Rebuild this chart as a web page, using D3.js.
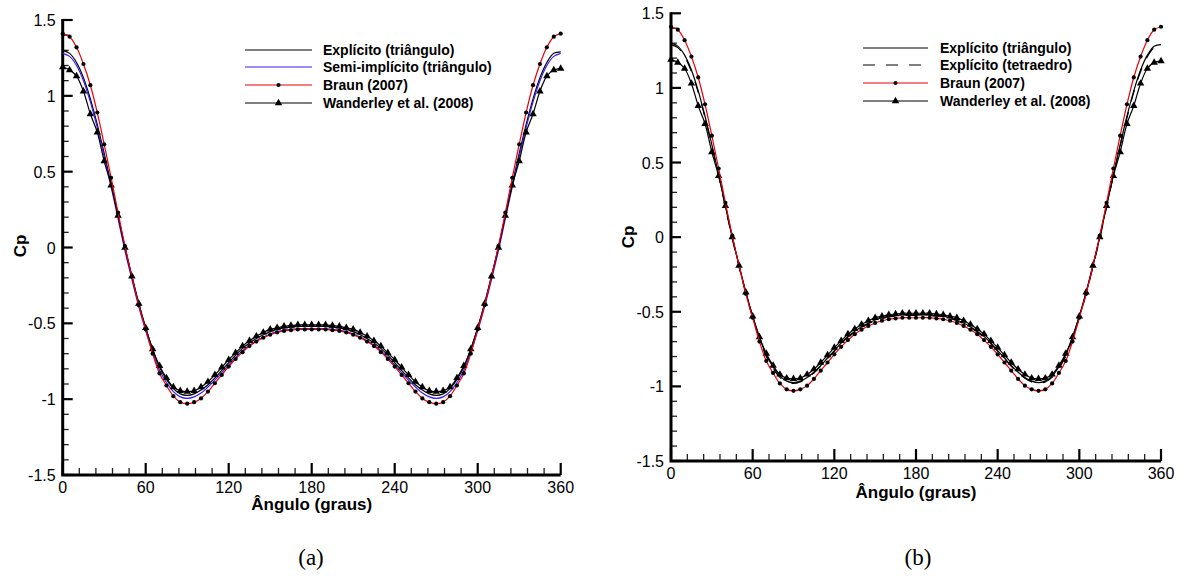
<!DOCTYPE html>
<html><head><meta charset="utf-8">
<script src="https://cdn.jsdelivr.net/npm/d3@7"></script>
<style>
html,body{margin:0;padding:0;background:#fff;}
svg text{font-family:"Liberation Sans",Arial,sans-serif;}
svg text.cap{font-family:"Liberation Serif","Times New Roman",serif;}
</style></head>
<body>
<svg id="c" width="1184" height="580"></svg>
<script>
// ---------- DATA ----------
const angles = [0,5,10,15,20,25,30,35,40,45,50,55,60,65,70,75,80,85,90,95,100,105,110,115,120,125,130,135,140,145,150,155,160,165,170,175,180,
 185,190,195,200,205,210,215,220,225,230,235,240,245,250,255,260,265,270,275,280,285,290,295,300,305,310,315,320,325,330,335,340,345,350,355,360];

const braun = [1.41,1.39,1.32,1.21,1.07,0.89,0.68,0.46,0.23,0.01,-0.19,-0.38,-0.54,-0.70,-0.83,-0.91,-0.98,-1.02,-1.03,-1.02,-0.995,-0.95,-0.895,-0.84,-0.785,-0.735,-0.69,-0.65,-0.62,-0.595,-0.575,-0.56,-0.55,-0.545,-0.54,-0.54,-0.54,
 -0.54,-0.54,-0.545,-0.55,-0.56,-0.575,-0.595,-0.62,-0.65,-0.69,-0.735,-0.785,-0.84,-0.895,-0.95,-0.995,-1.02,-1.03,-1.02,-0.98,-0.91,-0.83,-0.70,-0.54,-0.38,-0.19,0.01,0.23,0.46,0.68,0.89,1.07,1.21,1.32,1.39,1.41];

const wanderley = [1.19,1.17,1.13,1.03,0.88,0.76,0.57,0.41,0.21,0.00,-0.19,-0.37,-0.53,-0.67,-0.78,-0.86,-0.92,-0.945,-0.95,-0.945,-0.92,-0.885,-0.84,-0.79,-0.74,-0.695,-0.65,-0.615,-0.585,-0.56,-0.54,-0.53,-0.52,-0.515,-0.51,-0.51,-0.51,
 -0.51,-0.51,-0.515,-0.52,-0.53,-0.54,-0.56,-0.585,-0.615,-0.65,-0.695,-0.74,-0.79,-0.84,-0.885,-0.92,-0.945,-0.95,-0.945,-0.92,-0.86,-0.78,-0.67,-0.53,-0.37,-0.19,0.00,0.21,0.41,0.57,0.76,0.88,1.03,1.13,1.17,1.18];

const explicitoTri = [1.30,1.28,1.22,1.12,0.98,0.81,0.62,0.42,0.21,0.00,-0.19,-0.37,-0.53,-0.67,-0.79,-0.87,-0.93,-0.965,-0.975,-0.965,-0.94,-0.905,-0.86,-0.81,-0.76,-0.71,-0.665,-0.63,-0.60,-0.575,-0.555,-0.54,-0.53,-0.525,-0.52,-0.52,-0.52,
 -0.52,-0.52,-0.525,-0.53,-0.54,-0.555,-0.575,-0.60,-0.63,-0.665,-0.71,-0.76,-0.81,-0.86,-0.905,-0.94,-0.965,-0.975,-0.965,-0.93,-0.87,-0.79,-0.67,-0.53,-0.37,-0.19,0.00,0.21,0.42,0.62,0.81,0.98,1.12,1.22,1.28,1.29];

const semiImplicitoTri = [1.28,1.26,1.20,1.10,0.96,0.79,0.60,0.40,0.19,-0.02,-0.21,-0.39,-0.55,-0.69,-0.81,-0.89,-0.95,-0.985,-0.995,-0.985,-0.96,-0.92,-0.875,-0.825,-0.775,-0.725,-0.68,-0.645,-0.615,-0.59,-0.57,-0.555,-0.545,-0.54,-0.535,-0.535,-0.535,
 -0.535,-0.535,-0.54,-0.545,-0.555,-0.57,-0.59,-0.615,-0.645,-0.68,-0.725,-0.775,-0.825,-0.875,-0.92,-0.96,-0.985,-0.995,-0.985,-0.95,-0.89,-0.81,-0.69,-0.55,-0.39,-0.21,-0.02,0.19,0.40,0.60,0.79,0.96,1.10,1.20,1.26,1.28];

const explicitoTet = [1.29,1.27,1.21,1.11,0.97,0.80,0.61,0.41,0.20,-0.01,-0.20,-0.38,-0.54,-0.68,-0.80,-0.88,-0.94,-0.97,-0.98,-0.97,-0.945,-0.91,-0.865,-0.815,-0.765,-0.715,-0.67,-0.635,-0.605,-0.58,-0.56,-0.545,-0.535,-0.53,-0.525,-0.525,-0.525,
 -0.525,-0.525,-0.53,-0.535,-0.545,-0.56,-0.58,-0.605,-0.635,-0.67,-0.715,-0.765,-0.815,-0.865,-0.91,-0.945,-0.97,-0.98,-0.97,-0.94,-0.88,-0.80,-0.68,-0.54,-0.38,-0.20,-0.01,0.20,0.41,0.61,0.80,0.97,1.11,1.21,1.27,1.28];

const xTickValues = [0,60,120,180,240,300,360];
const xTickLabels = ["0","60","120","180","240","300","360"];
const yTickValues = [-1.5,-1,-0.5,0,0.5,1,1.5];
const yTickLabels = ["-1.5","-1","-0.5","0","0.5","1","1.5"];

const legendA = ["Explícito (triângulo)","Semi-implícito (triângulo)","Braun (2007)","Wanderley et al. (2008)"];
const legendB = ["Explícito (triângulo)","Explícito (tetraedro)","Braun (2007)","Wanderley et al. (2008)"];

// ---------- DRAW ----------
const svg = d3.select("#c");

function drawPanel(p){
  const g = svg.append("g");
  const x = d3.scaleLinear().domain([0,360]).range([p.x0,p.x1]);
  const y = d3.scaleLinear().domain([-1.5,1.5]).range([p.yBot,p.yTop]);

  // minor ticks
  const xMinor = d3.range(0,361,12).filter(v=>v%60!==0);
  const yMinor = d3.range(-15,16,1).map(v=>v/10).filter(v=>Math.abs(v*2-Math.round(v*2))>1e-6);
  g.selectAll(null).data(xMinor).enter().append("line")
   .attr("x1",d=>x(d)).attr("x2",d=>x(d)).attr("y1",p.yBot).attr("y2",p.yBot-7)
   .attr("stroke","#222").attr("stroke-width",1.3);
  g.selectAll(null).data(yMinor).enter().append("line")
   .attr("y1",d=>y(d)).attr("y2",d=>y(d)).attr("x1",p.x0).attr("x2",p.x0+6)
   .attr("stroke","#222").attr("stroke-width",1.3);
  // major ticks
  g.selectAll(null).data(xTickValues).enter().append("line")
   .attr("x1",d=>x(d)).attr("x2",d=>x(d)).attr("y1",p.yBot).attr("y2",p.yBot-12)
   .attr("stroke","#000").attr("stroke-width",2.2);
  g.selectAll(null).data(yTickValues).enter().append("line")
   .attr("y1",d=>y(d)).attr("y2",d=>y(d)).attr("x1",p.x0).attr("x2",p.x0+10)
   .attr("stroke","#000").attr("stroke-width",2.2);
  // axis lines
  g.append("path").attr("d",`M${p.x0},${p.yTop-1}V${p.yBot}H${p.x1}`)
   .attr("fill","none").attr("stroke","#000").attr("stroke-width",3);

  // tick labels
  g.selectAll(null).data(xTickValues).enter().append("text")
   .attr("x",d=>x(d)).attr("y",p.yBot+18).attr("text-anchor","middle")
   .attr("font-size",16).text((d,i)=>xTickLabels[i]);
  g.selectAll(null).data(yTickValues).enter().append("text")
   .attr("x",p.x0-7).attr("y",d=>y(d)+6).attr("text-anchor","end")
   .attr("font-size",16).text((d,i)=>yTickLabels[i]);

  // axis titles
  g.append("text").attr("x",(p.x0+p.x1)/2).attr("y",p.xTitleY).attr("text-anchor","middle")
   .attr("font-size",17).attr("font-weight","bold").text("Ângulo (graus)");
  g.append("text").attr("transform",`translate(${p.yTitleX},${p.yTitleY}) rotate(-90)`)
   .attr("text-anchor","middle").attr("font-size",17).attr("font-weight","bold").text("Cp");

  const line = d3.line().x((d,i)=>x(angles[i])).y(d=>y(d)).curve(d3.curveCatmullRom.alpha(0.5));

  p.series.forEach(s=>{
    g.append("path").attr("d",line(s.values)).attr("fill","none")
     .attr("stroke",s.color).attr("stroke-width",s.width||1.2)
     .attr("stroke-dasharray",s.dash||null);
    if(s.marker==="dot"){
      g.selectAll(null).data(s.values).enter().append("circle")
       .attr("cx",(d,i)=>x(angles[i])).attr("cy",d=>y(d)).attr("r",2.1).attr("fill","#000");
    } else if(s.marker==="tri"){
      g.selectAll(null).data(s.values).enter().append("path")
       .attr("d",d3.symbol().type(d3.symbolTriangle).size(24))
       .attr("transform",(d,i)=>`translate(${x(angles[i])},${y(d)})`).attr("fill","#000");
    }
  });

  // legend
  p.legend.forEach((name,i)=>{
    const s = p.legendSeries[i];
    const ly = p.legY[i];
    g.append("line").attr("x1",p.legX0).attr("x2",p.legX1).attr("y1",ly).attr("y2",ly)
     .attr("stroke",s.color).attr("stroke-width",s.width||1.2).attr("stroke-dasharray",s.dash||null);
    const mx=(p.legX0+p.legX1)/2;
    if(s.marker==="dot") g.append("circle").attr("cx",mx).attr("cy",ly).attr("r",2.1).attr("fill","#000");
    if(s.marker==="tri") g.append("path").attr("d",d3.symbol().type(d3.symbolTriangle).size(24)())
       .attr("transform",`translate(${mx},${ly})`).attr("fill","#000");
    g.append("text").attr("x",p.legText).attr("y",ly+5).attr("font-size",14).attr("font-weight","bold").text(name);
  });

  svg.append("text").attr("class","cap").attr("x",p.capX).attr("y",565).attr("text-anchor","middle")
   .attr("font-size",23).text(p.caption);
}

const sBraun = {values:braun,color:"#e8000b",marker:"dot"};
const sWand = {values:wanderley,color:"#000",marker:"tri"};
const sExp = {values:explicitoTri,color:"#000"};
const sSemi = {values:semiImplicitoTri,color:"#3a1cf0"};
const sTet = {values:explicitoTet,color:"#000",dash:"12,11"};

drawPanel({x0:62.7,x1:560.7,yTop:20,yBot:475,xTitleY:510,yTitleX:26,yTitleY:246,
  series:[sExp,sSemi,sWand,sBraun],legend:legendA,legendSeries:[sExp,sSemi,sBraun,sWand],
  legX0:245,legX1:312,legText:323,legY:[50,67,85,103],capX:311,caption:"(a)"});
drawPanel({x0:671,x1:1161,yTop:13.3,yBot:461,xTitleY:498,yTitleX:634,yTitleY:237,
  series:[sExp,sTet,sWand,sBraun],legend:legendB,legendSeries:[sExp,sTet,sBraun,sWand],
  legX0:863,legX1:928,legText:940,legY:[48,65,83,101],capX:918,caption:"(b)"});
</script>
</body></html>
